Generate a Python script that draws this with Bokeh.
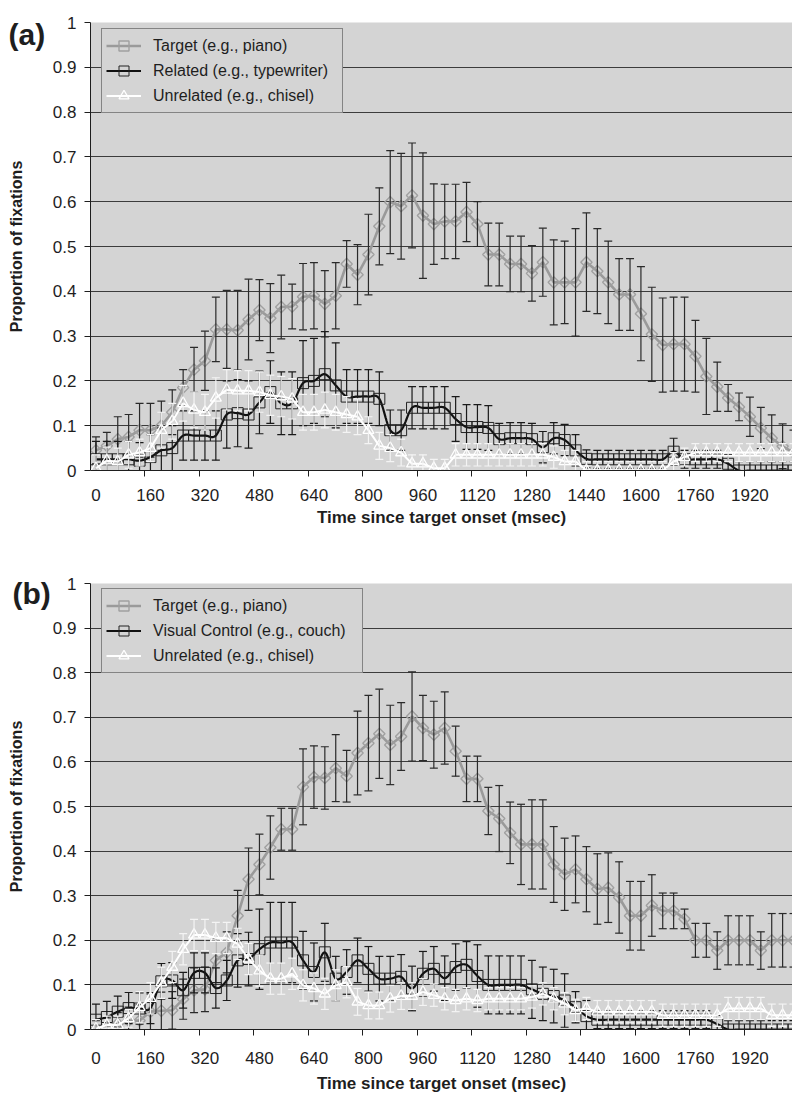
import math
import numpy as np
from bokeh.plotting import figure
from bokeh.models import FixedTicker, Legend, LegendItem, Label, Range1d
from bokeh.layouts import column
from bokeh.embed import file_html
from bokeh.resources import INLINE

# ---------------- data ----------------
STEP_MS = 32
N_POINTS = 65
TIME_MS = [STEP_MS * i for i in range(N_POINTS)]

X_TICK_LABELS = [0, 160, 320, 480, 640, 800, 960, 1120, 1280, 1440, 1600, 1760, 1920]
Y_TICKS = [0.0, 0.1, 0.2, 0.3, 0.4, 0.5, 0.6, 0.7, 0.8, 0.9, 1.0]
Y_TICK_LABELS = ["0", "0.1", "0.2", "0.3", "0.4", "0.5", "0.6", "0.7", "0.8", "0.9", "1"]

LEGEND_A = ["Target (e.g., piano)", "Related (e.g., typewriter)", "Unrelated (e.g., chisel)"]
LEGEND_B = ["Target (e.g., piano)", "Visual Control (e.g., couch)", "Unrelated (e.g., chisel)"]

A_TARGET = [0.045, 0.055, 0.070, 0.075, 0.090, 0.090, 0.100, 0.130, 0.185, 0.225,
            0.245, 0.315, 0.315, 0.313, 0.337, 0.358, 0.340, 0.365, 0.366, 0.388,
            0.390, 0.372, 0.390, 0.461, 0.437, 0.482, 0.545, 0.599, 0.590, 0.614,
            0.569, 0.550, 0.556, 0.556, 0.577, 0.550, 0.482, 0.482, 0.461, 0.461,
            0.440, 0.465, 0.420, 0.420, 0.420, 0.465, 0.445, 0.420, 0.393, 0.393,
            0.350, 0.304, 0.280, 0.282, 0.282, 0.255, 0.210, 0.187, 0.162, 0.142,
            0.120, 0.095, 0.072, 0.054, 0.040]
A_TARGET_ERR = [0.030, 0.030, 0.050, 0.050, 0.060, 0.060, 0.055, 0.050, 0.040, 0.050,
                0.066, 0.072, 0.087, 0.089, 0.090, 0.068, 0.077, 0.071, 0.050, 0.074,
                0.074, 0.074, 0.074, 0.052, 0.067, 0.090, 0.086, 0.115, 0.118, 0.117,
                0.140, 0.090, 0.083, 0.083, 0.066, 0.050, 0.070, 0.070, 0.062, 0.062,
                0.062, 0.076, 0.095, 0.092, 0.120, 0.110, 0.095, 0.092, 0.080, 0.080,
                0.105, 0.105, 0.105, 0.105, 0.105, 0.080, 0.085, 0.055, 0.030, 0.031,
                0.044, 0.046, 0.052, 0.050, 0.050]
A_RELATED = [0.025, 0.025, 0.025, 0.025, 0.022, 0.030, 0.045, 0.050, 0.078, 0.078,
             0.078, 0.078, 0.125, 0.128, 0.125, 0.152, 0.175, 0.150, 0.150, 0.195,
             0.200, 0.215, 0.190, 0.165, 0.165, 0.165, 0.160, 0.090, 0.090, 0.140,
             0.140, 0.140, 0.140, 0.115, 0.097, 0.097, 0.095, 0.070, 0.072, 0.072,
             0.070, 0.052, 0.072, 0.068, 0.045, 0.026, 0.025, 0.025, 0.025, 0.025,
             0.025, 0.025, 0.025, 0.042, 0.025, 0.025, 0.025, 0.025, 0.015, 0.000,
             0.000, 0.000, 0.000, 0.000, 0.000]
A_RELATED_ERR = [0.040, 0.040, 0.040, 0.040, 0.040, 0.050, 0.050, 0.050, 0.055, 0.055,
                 0.055, 0.055, 0.075, 0.075, 0.075, 0.070, 0.070, 0.070, 0.070, 0.095,
                 0.095, 0.095, 0.095, 0.060, 0.060, 0.060, 0.060, 0.045, 0.045, 0.047,
                 0.047, 0.047, 0.047, 0.050, 0.050, 0.050, 0.050, 0.035, 0.035, 0.035,
                 0.035, 0.035, 0.035, 0.035, 0.035, 0.020, 0.020, 0.020, 0.020, 0.020,
                 0.020, 0.020, 0.020, 0.030, 0.020, 0.020, 0.020, 0.020, 0.020, 0.020,
                 0.020, 0.020, 0.020, 0.020, 0.020]
A_UNRELATED = [0.005, 0.022, 0.020, 0.035, 0.040, 0.050, 0.090, 0.110, 0.150, 0.135,
               0.130, 0.162, 0.180, 0.178, 0.178, 0.175, 0.168, 0.165, 0.160, 0.130,
               0.130, 0.135, 0.130, 0.125, 0.120, 0.090, 0.055, 0.050, 0.040, 0.015,
               0.015, 0.005, 0.005, 0.035, 0.035, 0.035, 0.035, 0.035, 0.035, 0.035,
               0.035, 0.035, 0.030, 0.020, 0.020, 0.000, 0.000, 0.000, 0.000, 0.000,
               0.000, 0.000, 0.000, 0.020, 0.030, 0.040, 0.040, 0.040, 0.040, 0.040,
               0.040, 0.040, 0.040, 0.040, 0.040]
A_UNRELATED_ERR = [0.030, 0.030, 0.030, 0.030, 0.030, 0.030, 0.040, 0.040, 0.040, 0.040,
                   0.040, 0.045, 0.045, 0.045, 0.045, 0.045, 0.045, 0.045, 0.045, 0.040,
                   0.040, 0.040, 0.040, 0.040, 0.040, 0.030, 0.030, 0.030, 0.030, 0.020,
                   0.020, 0.020, 0.020, 0.025, 0.025, 0.025, 0.025, 0.025, 0.025, 0.025,
                   0.025, 0.025, 0.025, 0.025, 0.025, 0.020, 0.020, 0.020, 0.020, 0.020,
                   0.020, 0.020, 0.020, 0.020, 0.020, 0.020, 0.020, 0.020, 0.020, 0.020,
                   0.020, 0.020, 0.020, 0.020, 0.020]

B_TARGET = [0.000, 0.006, 0.013, 0.020, 0.020, 0.040, 0.042, 0.043, 0.068, 0.088,
            0.090, 0.155, 0.173, 0.255, 0.337, 0.370, 0.408, 0.449, 0.449, 0.544,
            0.566, 0.564, 0.586, 0.568, 0.620, 0.642, 0.663, 0.638, 0.657, 0.702,
            0.676, 0.661, 0.676, 0.624, 0.562, 0.562, 0.490, 0.473, 0.441, 0.415,
            0.415, 0.415, 0.370, 0.348, 0.359, 0.337, 0.315, 0.318, 0.296, 0.255,
            0.255, 0.278, 0.266, 0.266, 0.248, 0.200, 0.200, 0.177, 0.200, 0.200,
            0.200, 0.177, 0.200, 0.200, 0.200]
B_TARGET_ERR = [0.020, 0.020, 0.025, 0.030, 0.035, 0.040, 0.042, 0.042, 0.045, 0.050,
                0.050, 0.050, 0.046, 0.057, 0.070, 0.068, 0.071, 0.047, 0.047, 0.085,
                0.070, 0.070, 0.075, 0.058, 0.094, 0.107, 0.100, 0.089, 0.076, 0.100,
                0.073, 0.075, 0.081, 0.056, 0.051, 0.051, 0.053, 0.074, 0.069, 0.090,
                0.100, 0.100, 0.085, 0.081, 0.075, 0.073, 0.079, 0.078, 0.080, 0.077,
                0.077, 0.069, 0.040, 0.040, 0.022, 0.038, 0.038, 0.042, 0.055, 0.055,
                0.055, 0.042, 0.060, 0.060, 0.060]
B_VISUAL = [0.022, 0.028, 0.040, 0.048, 0.047, 0.048, 0.108, 0.110, 0.088, 0.127,
            0.127, 0.093, 0.110, 0.155, 0.158, 0.180, 0.195, 0.195, 0.195, 0.155,
            0.129, 0.173, 0.114, 0.129, 0.155, 0.136, 0.114, 0.114, 0.118, 0.092,
            0.125, 0.136, 0.115, 0.140, 0.145, 0.120, 0.100, 0.100, 0.100, 0.100,
            0.090, 0.080, 0.075, 0.065, 0.050, 0.030, 0.022, 0.022, 0.022, 0.022,
            0.022, 0.022, 0.022, 0.022, 0.022, 0.022, 0.022, 0.012, 0.000, 0.000,
            0.000, 0.000, 0.000, 0.000, 0.000]
B_VISUAL_ERR = [0.035, 0.035, 0.035, 0.035, 0.035, 0.035, 0.040, 0.040, 0.040, 0.045,
                0.045, 0.045, 0.045, 0.060, 0.060, 0.090, 0.090, 0.090, 0.090, 0.065,
                0.065, 0.065, 0.050, 0.050, 0.050, 0.050, 0.050, 0.050, 0.050, 0.050,
                0.050, 0.050, 0.050, 0.052, 0.052, 0.070, 0.065, 0.065, 0.065, 0.065,
                0.065, 0.060, 0.060, 0.060, 0.035, 0.035, 0.020, 0.020, 0.020, 0.020,
                0.020, 0.020, 0.020, 0.020, 0.020, 0.020, 0.020, 0.020, 0.020, 0.020,
                0.020, 0.020, 0.020, 0.020, 0.020]
B_UNRELATED = [0.002, 0.010, 0.010, 0.025, 0.050, 0.070, 0.105, 0.140, 0.180, 0.212,
               0.212, 0.205, 0.205, 0.192, 0.158, 0.132, 0.114, 0.114, 0.125, 0.099,
               0.092, 0.080, 0.099, 0.106, 0.062, 0.054, 0.054, 0.069, 0.075, 0.075,
               0.084, 0.077, 0.069, 0.065, 0.069, 0.065, 0.069, 0.069, 0.069, 0.069,
               0.073, 0.080, 0.069, 0.058, 0.043, 0.047, 0.040, 0.040, 0.040, 0.040,
               0.040, 0.040, 0.032, 0.032, 0.032, 0.032, 0.032, 0.032, 0.047, 0.047,
               0.047, 0.047, 0.032, 0.032, 0.032]
B_UNRELATED_ERR = [0.020, 0.020, 0.020, 0.020, 0.035, 0.035, 0.035, 0.035, 0.035, 0.035,
                   0.035, 0.035, 0.035, 0.035, 0.035, 0.035, 0.035, 0.035, 0.035, 0.035,
                   0.035, 0.035, 0.035, 0.035, 0.030, 0.030, 0.030, 0.030, 0.030, 0.030,
                   0.030, 0.025, 0.025, 0.025, 0.025, 0.025, 0.025, 0.025, 0.025, 0.025,
                   0.025, 0.025, 0.025, 0.025, 0.025, 0.025, 0.025, 0.025, 0.025, 0.025,
                   0.025, 0.025, 0.025, 0.025, 0.025, 0.025, 0.025, 0.025, 0.025, 0.025,
                   0.025, 0.025, 0.025, 0.025, 0.025]

for arr in (A_TARGET, A_TARGET_ERR, A_RELATED, A_RELATED_ERR, A_UNRELATED, A_UNRELATED_ERR,
            B_TARGET, B_TARGET_ERR, B_VISUAL, B_VISUAL_ERR, B_UNRELATED, B_UNRELATED_ERR):
    assert len(arr) == N_POINTS, len(arr)

# ---------------- style ----------------
FONT = "Liberation Sans"
BG = "#d4d4d4"
INK = "#1e1e1e"
GRID = "#3c3c3c"
TARGET_COLOR = "#9a9a9a"
FIG_W = 792
FRAME_LEFT = 90
FRAME_W = FIG_W - FRAME_LEFT
FRAME_H = 448
TOP_BORDER = 40          # room for the panel tag ("above" side panel)
X_START = -STEP_MS / 2.0
X_END = 2045.0
MS_PER_PX = (X_END - X_START) / FRAME_W
CAP_MS = 4.0 * MS_PER_PX


def smooth_curve(xs, ys, steps=12):
    x = np.asarray(xs, float)
    y = np.asarray(ys, float)
    n = len(x)
    out_x, out_y = [x[0]], [y[0]]
    t = np.linspace(0.0, 1.0, steps + 1)[1:]
    for i in range(n - 1):
        xa, ya = (x[i - 1], y[i - 1]) if i > 0 else (x[i], y[i])
        xd, yd = (x[i + 2], y[i + 2]) if i + 2 < n else (x[i + 1], y[i + 1])
        c1x = x[i] + (x[i + 1] - xa) / 6.0
        c1y = y[i] + (y[i + 1] - ya) / 6.0
        c2x = x[i + 1] - (xd - x[i]) / 6.0
        c2y = y[i + 1] - (yd - y[i]) / 6.0
        b0 = (1 - t) ** 3
        b1 = 3 * (1 - t) ** 2 * t
        b2 = 3 * (1 - t) * t ** 2
        b3 = t ** 3
        out_x.extend(b0 * x[i] + b1 * c1x + b2 * c2x + b3 * x[i + 1])
        out_y.extend(b0 * y[i] + b1 * c1y + b2 * c2y + b3 * y[i + 1])
    return out_x, out_y


def error_bars(p, xs, ys, errs, color):
    x = np.asarray(xs, float)
    y = np.asarray(ys, float)
    e = np.asarray(errs, float)
    lo, hi = y - e, y + e
    p.segment(x0=x, y0=lo, x1=x, y1=hi, line_color=color, line_width=1.2)
    p.segment(x0=x - CAP_MS, y0=hi, x1=x + CAP_MS, y1=hi, line_color=color, line_width=1.2)
    p.segment(x0=x - CAP_MS, y0=lo, x1=x + CAP_MS, y1=lo, line_color=color, line_width=1.2)


def make_panel(tag, tag_xy, labels, target, target_err, second, second_err,
               unrelated, unrelated_err, height, legend_top_px, legend_label_w,
               label_standoff, title_standoff):
    bottom_border = height - TOP_BORDER - FRAME_H
    p = figure(width=FIG_W, height=height, output_backend="svg", toolbar_location=None,
               x_range=Range1d(X_START, X_END), y_range=Range1d(0, 1),
               min_border_left=FRAME_LEFT, min_border_right=0,
               min_border_top=TOP_BORDER, min_border_bottom=bottom_border)
    p.background_fill_color = BG
    p.border_fill_color = "white"
    p.outline_line_color = None

    p.xgrid.visible = False
    p.ygrid.ticker = FixedTicker(ticks=Y_TICKS)
    p.ygrid.grid_line_color = GRID
    p.ygrid.grid_line_width = 1

    # x axis
    xa = p.xaxis[0]
    xa.ticker = FixedTicker(ticks=X_TICK_LABELS,
                            minor_ticks=[t - STEP_MS / 2.0 for t in X_TICK_LABELS[1:]])
    xa.major_tick_out = 0
    xa.major_tick_in = 0
    xa.minor_tick_out = 6
    xa.minor_tick_in = 0
    xa.minor_tick_line_color = INK
    xa.axis_line_color = INK
    xa.major_label_standoff = label_standoff
    xa.major_label_text_font = FONT
    xa.major_label_text_font_size = "17px"
    xa.major_label_text_color = INK
    xa.axis_label = "Time since target onset (msec)"
    xa.axis_label_text_font = FONT
    xa.axis_label_text_font_size = "17px"
    xa.axis_label_text_font_style = "bold"
    xa.axis_label_text_color = INK
    xa.axis_label_standoff = title_standoff

    # y axis
    ya = p.yaxis[0]
    ya.ticker = FixedTicker(ticks=Y_TICKS, minor_ticks=[])
    ya.major_label_overrides = dict(zip(Y_TICKS, Y_TICK_LABELS))
    ya.major_tick_out = 6
    ya.major_tick_in = 0
    ya.major_tick_line_color = INK
    ya.axis_line_color = INK
    ya.major_label_standoff = 8
    ya.major_label_text_font = FONT
    ya.major_label_text_font_size = "17px"
    ya.major_label_text_color = INK
    ya.axis_label = "Proportion of fixations"
    ya.axis_label_text_font = FONT
    ya.axis_label_text_font_size = "16px"
    ya.axis_label_text_font_style = "bold"
    ya.axis_label_text_color = INK
    ya.axis_label_standoff = 25

    # target series
    t_line = p.line(TIME_MS, target, line_color=TARGET_COLOR, line_width=2.6)
    t_mark = p.scatter(TIME_MS, target, marker="square", angle=math.pi / 4, size=8,
                       fill_color=None, line_color="#a0a0a0", line_width=1.4)
    error_bars(p, TIME_MS, target, target_err, "#2a2a2a")

    # related / visual control (smoothed line)
    sx, sy = smooth_curve(TIME_MS, second)
    s_line = p.line(sx, sy, line_color="#111111", line_width=2.2)
    s_mark = p.scatter(TIME_MS, second, marker="square", size=11, fill_color=None,
                       line_color="#222222", line_width=1.0)
    error_bars(p, TIME_MS, second, second_err, "#1a1a1a")

    # unrelated series (white)
    u_line = p.line(TIME_MS, unrelated, line_color="white", line_width=2.0)
    u_mark = p.scatter(TIME_MS, unrelated, marker="triangle", size=11, fill_color=None,
                       line_color="white", line_width=1.3)
    error_bars(p, TIME_MS, unrelated, unrelated_err, "#f4f4f4")

    legend = Legend(items=[LegendItem(label=labels[0], renderers=[t_line, t_mark]),
                           LegendItem(label=labels[1], renderers=[s_line, s_mark]),
                           LegendItem(label=labels[2], renderers=[u_line, u_mark])],
                    location=(11, FRAME_H - legend_top_px - 83))
    legend.background_fill_color = BG
    legend.background_fill_alpha = 1.0
    legend.border_line_color = "#333333"
    legend.border_line_width = 1
    legend.label_text_font = FONT
    legend.label_text_font_size = "16px"
    legend.label_text_color = INK
    legend.glyph_width = 35
    legend.glyph_height = 25
    legend.label_height = 25
    legend.label_standoff = 12
    legend.label_width = legend_label_w
    legend.padding = 4
    legend.spacing = 0
    legend.margin = 0
    p.add_layout(legend)

    # panel tag "(a)" / "(b)": in the "above" side panel so it is not clipped to the frame
    p.add_layout(Label(x=tag_xy[0], y=tag_xy[1], x_units="canvas", y_units="canvas",
                       text=tag, text_font=FONT, text_font_size="30px", text_font_style="bold",
                       text_color=INK, text_baseline="middle", text_align="left"), "above")
    return p


# p1 is shifted up by a negative top margin so that its frame top sits at y=22 of the page
P1_SHIFT = TOP_BORDER - 22
p1 = make_panel("(a)", (8, 34 + P1_SHIFT), LEGEND_A, A_TARGET, A_TARGET_ERR, A_RELATED,
                A_RELATED_ERR, A_UNRELATED, A_UNRELATED_ERR,
                height=P1_SHIFT + 543, legend_top_px=8, legend_label_w=185,
                label_standoff=12, title_standoff=4)
p1.margin = (-P1_SHIFT, 0, 0, 0)
p2 = make_panel("(b)", (12, 593 - 543), LEGEND_B, B_TARGET, B_TARGET_ERR, B_VISUAL, B_VISUAL_ERR,
                B_UNRELATED, B_UNRELATED_ERR, height=1095 - 543, legend_top_px=9,
                legend_label_w=205, label_standoff=16, title_standoff=7)

layout = column(p1, p2, spacing=0)
open("out.html", "w").write(file_html(layout, INLINE))
